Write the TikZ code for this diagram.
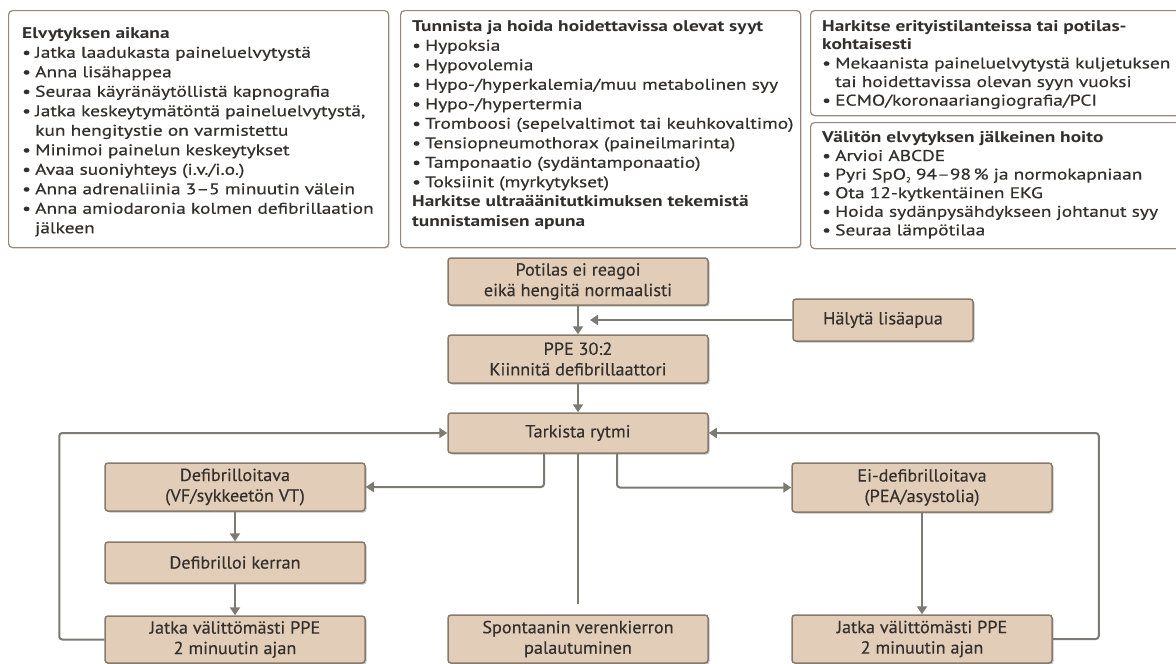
\documentclass[tikz,border=0pt]{standalone}
\usepackage{fontspec}
\setmainfont[FakeStretch=1.04, UprightFeatures={FakeBold=0.3}]{PT Sans}
\newfontfamily\luettelofont[Ligatures=TeX, FakeStretch=1.25, UprightFeatures={FakeBold=0.4}]{PT Sans}
\usetikzlibrary{arrows.meta,shadows}

\definecolor{vaihevari}{RGB}{226,206,184}
\definecolor{reunavari}{RGB}{135,122,108}
\definecolor{nuolivari}{RGB}{125,122,116}
\definecolor{tekstivari}{RGB}{50,47,45}
\definecolor{kehysvari}{RGB}{150,135,120}

% luettelon merkki ja sisennetty jatkorivi
\newcommand{\kohta}{\makebox[13pt][l]{\textbullet}}
\newcommand{\jatko}{\hspace*{13pt}}

\tikzset{
  vaihe/.style={rectangle, rounded corners=3pt, draw=reunavari, line width=1.5pt, fill=vaihevari,
    text=tekstivari, minimum width=260pt, align=center, inner sep=0pt,
    font=\fontsize{17.5}{20.5}\selectfont,
    drop shadow={shadow xshift=1.5pt, shadow yshift=-1.5pt, fill=black!40, opacity=0.6}},
  tieto/.style={rectangle, rounded corners=4pt, draw=kehysvari, line width=1.2pt, fill=white,
    anchor=north west, inner sep=0pt,
    drop shadow={shadow xshift=1pt, shadow yshift=-1pt, fill=black!30, opacity=0.5}},
  luettelo/.style={anchor=north west, align=left, inner sep=0pt, text=tekstivari,
    font=\luettelofont\fontsize{15.5}{19.5}\selectfont},
  nuoli/.style={draw=nuolivari, line width=2pt, rounded corners=3pt, -{Triangle[width=10pt,length=8pt]}},
  viiva/.style={draw=nuolivari, line width=2pt},
}

\begin{document}
\begin{tikzpicture}[x=1pt, y=-1pt]
    \useasboundingbox (0,0) rectangle (1176,664);
    \clip (0,0) rectangle (1176,664);

    % Tietolaatikot ylhaalla
    \node[tieto, minimum width=380pt, minimum height=237pt] (elvytys) at (8,10) {};
    \node[tieto, minimum width=400pt, minimum height=237pt] (syyt) at (400,10) {};
    \node[tieto, minimum width=380pt, minimum height=105pt] (harkitse) at (810,10) {};
    \node[tieto, minimum width=380pt, minimum height=126pt] (jalkihoito) at (810,122) {};

    \node[luettelo] (elvytysteksti) at (22,27) {%
        \textbf{Elvytyksen aikana}\\
        \kohta Jatka laadukasta paineluelvytystä\\
        \kohta Anna lisähappea\\
        \kohta Seuraa käyränäytöllistä kapnografia\\
        \kohta Jatka keskeytymätöntä paineluelvytystä,\\
        \jatko kun hengitystie on varmistettu\\
        \kohta Minimoi painelun keskeytykset\\
        \kohta Avaa suoniyhteys (i.v./i.o.)\\
        \kohta Anna adrenaliinia 3--5 minuutin välein\\
        \kohta Anna amiodaronia kolmen defibrillaation\\
        \jatko jälkeen};

    \node[luettelo] (syytteksti) at (412,20) {%
        \textbf{Tunnista ja hoida hoidettavissa olevat syyt}\\
        \kohta Hypoksia\\
        \kohta Hypovolemia\\
        \kohta Hypo-/hyperkalemia/muu metabolinen syy\\
        \kohta Hypo-/hypertermia\\
        \kohta Tromboosi (sepelvaltimot tai keuhkovaltimo)\\
        \kohta Tensiopneumothorax (paineilmarinta)\\
        \kohta Tamponaatio (sydäntamponaatio)\\
        \kohta Toksiinit (myrkytykset)\\
        \textbf{Harkitse ultraäänitutkimuksen tekemistä}\\
        \textbf{tunnistamisen apuna}};

    \node[luettelo, font=\luettelofont\fontsize{15.5}{18.6}\selectfont] (harkitseteksti) at (822,20) {%
        \textbf{Harkitse erityistilanteissa tai potilas-}\\
        \textbf{kohtaisesti}\\
        \kohta Mekaanista paineluelvytystä kuljetuksen\\
        \jatko tai hoidettavissa olevan syyn vuoksi\\
        \kohta ECMO/koronaariangiografia/PCI};

    \node[luettelo, font=\luettelofont\fontsize{15.5}{18.6}\selectfont] (jalkihoitoteksti) at (822,131) {%
        \textbf{Välitön elvytyksen jälkeinen hoito}\\
        \kohta Arvioi ABCDE\\
        \kohta Pyri SpO\raisebox{-0.35ex}{\scriptsize 2} 94--98\,\% ja normokapniaan\\
        \kohta Ota 12-kytkentäinen EKG\\
        \kohta Hoida sydänpysähdykseen johtanut syy\\
        \kohta Seuraa lämpötilaa};

    % Vuokaavion vaiheet
    \node[vaihe, minimum height=47pt] (potilas) at (578,281.5) {Potilas ei reagoi\\eikä hengitä normaalisti};
    \node[vaihe, minimum width=180pt, minimum height=42pt] (halyta) at (883,320) {Hälytä lisäapua};
    \node[vaihe, minimum height=48pt] (ppe) at (578,359) {PPE 30:2\\Kiinnitä defibrillaattori};
    \node[vaihe, minimum height=40pt] (tarkista) at (578,433) {Tarkista rytmi};
    \node[vaihe, minimum height=48pt] (defib) at (235,487) {Defibrilloitava\\(VF/sykkeetön VT)};
    \node[vaihe, minimum height=41pt] (kerran) at (235,562.5) {Defibrilloi kerran};
    \node[vaihe, minimum height=47pt] (jatkavasen) at (235,639.5) {Jatka välittömästi PPE\\2 minuutin ajan};
    \node[vaihe, minimum height=48pt] (spontaani) at (578,639) {Spontaanin verenkierron\\palautuminen};
    \node[vaihe, minimum height=49pt] (eidefib) at (922,487.5) {Ei-defibrilloitava\\(PEA/asystolia)};
    \node[vaihe, minimum height=48pt] (jatkaoikea) at (922,639) {Jatka välittömästi PPE\\2 minuutin ajan};

    \coordinate (liitos) at (590,320);

    % Yhteydet
    \draw[nuoli] (potilas) -- (ppe);
    \draw[nuoli] (halyta) -- (liitos);
    \draw[nuoli] (ppe) -- (tarkista);
    \draw[nuoli] ([xshift=-34pt]tarkista.south) |- (defib.east);
    \draw[nuoli] ([xshift=39pt]tarkista.south) |- (eidefib.west);
    \draw[viiva, shorten >=10pt] (tarkista.south) -- (spontaani.north);
    \draw[nuoli] (defib) -- (kerran);
    \draw[nuoli] (kerran) -- (jatkavasen);
    \draw[nuoli] (eidefib) -- (jatkaoikea);
    \draw[nuoli] (jatkavasen.west) -- ++(-45,0) |- (tarkista.west);
    \draw[nuoli] (jatkaoikea.east) -- ++(46,0) |- (tarkista.east);

\end{tikzpicture}
\end{document}
